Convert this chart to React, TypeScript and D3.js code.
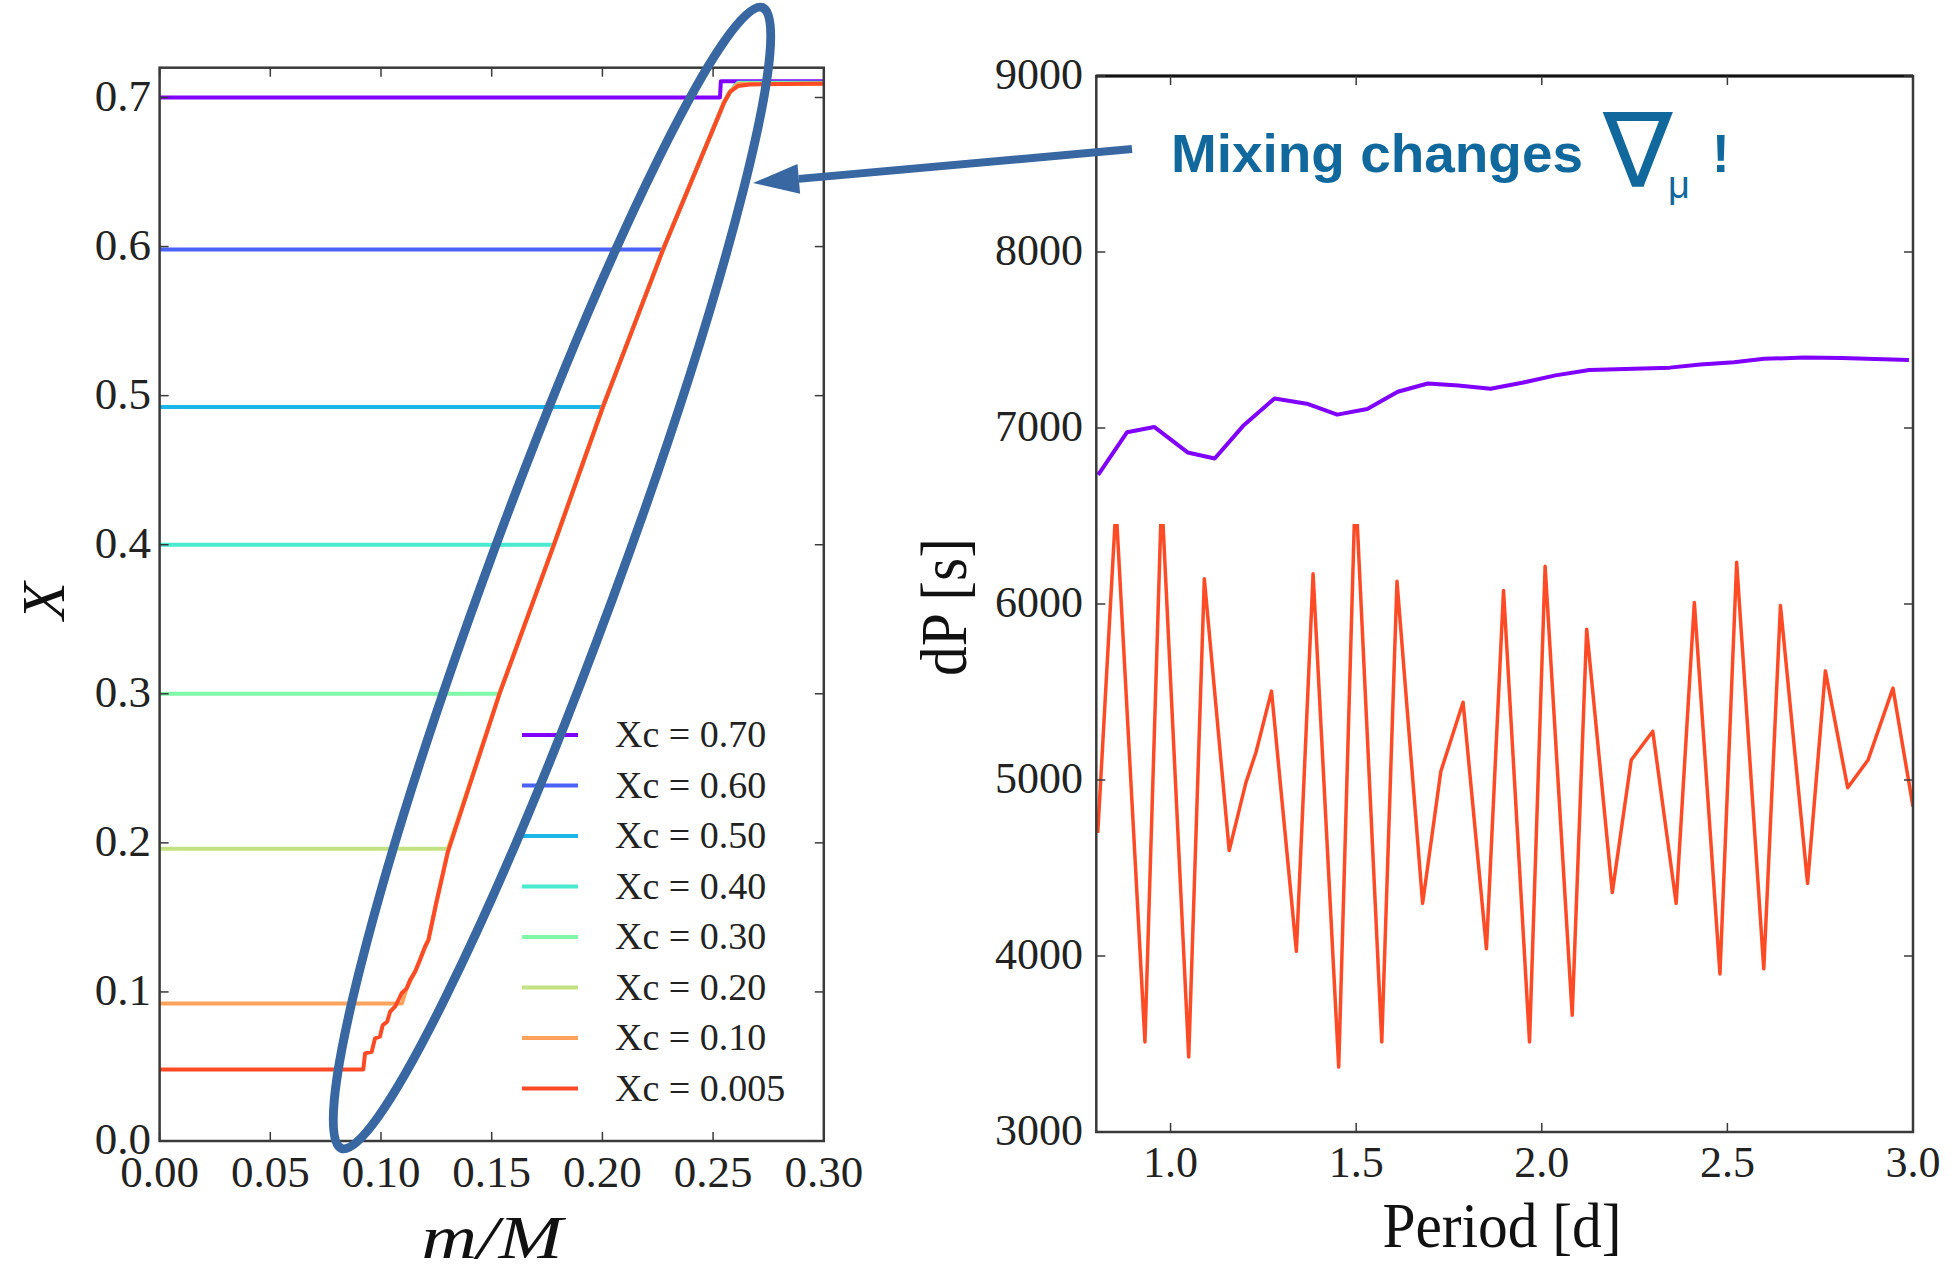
import React from "react";
import * as d3 from "d3";

const W = 1954;
const H = 1270;

// ---------- Left panel data ----------
const LEFT_X_TICKS = [0, 0.05, 0.1, 0.15, 0.2, 0.25, 0.3];
const LEFT_Y_TICKS = [0, 0.1, 0.2, 0.3, 0.4, 0.5, 0.6, 0.7];
const XC_LABELS = ["Xc = 0.70", "Xc = 0.60", "Xc = 0.50", "Xc = 0.40", "Xc = 0.30", "Xc = 0.20", "Xc = 0.10", "Xc = 0.005"];
const XC_COLORS = ["#8000ff", "#4a62f8", "#1cb5e8", "#48ead0", "#80f8a8", "#c2e282", "#ffa25c", "#ff4a26"];
// plateau level, mass where it joins the gradient, final top value, mass where top plateau starts
const XC_LEVELS = [0.70, 0.598, 0.4924, 0.40, 0.30, 0.196, 0.0922];
const XC_JOIN_M = [0.2531, 0.2274, 0.2002, 0.1781, 0.1535, 0.1302, 0.1094];
const XC_TOPS = [0.7109, 0.7101, 0.7099, 0.7097, 0.7095, 0.7093, 0.709];
const XC_TOP_M = [0.2535, 0.2612, 0.2612, 0.2612, 0.2612, 0.2612, 0.2612];

// Xc = 0.005 profile (staircase + gradient)
const CORE_M = [0, 0.092, 0.0928, 0.0958, 0.0973, 0.0995, 0.1008, 0.1028, 0.1041, 0.1063, 0.1075, 0.1093, 0.1116, 0.1131, 0.1154, 0.1176, 0.1199, 0.1214, 0.125, 0.1276, 0.1302, 0.1535, 0.1781, 0.2002, 0.2274, 0.252, 0.2549, 0.2576, 0.2612, 0.2667, 0.3];
const CORE_X = [0.048, 0.048, 0.0588, 0.0599, 0.0689, 0.07, 0.0778, 0.08, 0.0867, 0.0901, 0.0934, 0.0991, 0.1024, 0.108, 0.1136, 0.1214, 0.1303, 0.1348, 0.16, 0.177, 0.194, 0.3, 0.4, 0.4924, 0.598, 0.686, 0.6965, 0.7037, 0.7077, 0.7087, 0.7094];

// shared gradient region (for the other profiles)
const RAMP_M = [0.1116, 0.1154, 0.1199, 0.1214, 0.125, 0.1276, 0.1302, 0.1535, 0.1781, 0.2002, 0.2274, 0.252, 0.2549, 0.2576];
const RAMP_X = [0.1024, 0.1136, 0.1303, 0.1348, 0.16, 0.177, 0.194, 0.3, 0.4, 0.4924, 0.598, 0.686, 0.6965, 0.7037];

// ---------- Right panel data ----------
const RIGHT_X_TICKS = [1.0, 1.5, 2.0, 2.5, 3.0];
const RIGHT_Y_TICKS = [3000, 4000, 5000, 6000, 7000, 8000, 9000];
const P_PURPLE = [0.805, 0.883, 0.956, 1.046, 1.119, 1.195, 1.28, 1.367, 1.449, 1.53, 1.612, 1.693, 1.775, 1.862, 1.947, 2.037, 2.128, 2.345, 2.427, 2.518, 2.599, 2.708, 2.807, 2.989];
const DP_PURPLE = [6734, 6976, 7006, 6861, 6827, 7011, 7168, 7138, 7076, 7108, 7206, 7253, 7241, 7223, 7257, 7299, 7329, 7343, 7361, 7374, 7393, 7400, 7398, 7387];
const P_RED = [0.804, 0.853, 0.931, 0.976, 1.049, 1.091, 1.158, 1.203, 1.23, 1.272, 1.339, 1.384, 1.453, 1.498, 1.569, 1.61, 1.679, 1.728, 1.788, 1.851, 1.897, 1.967, 2.009, 2.082, 2.121, 2.19, 2.241, 2.299, 2.362, 2.411, 2.48, 2.525, 2.598, 2.643, 2.716, 2.764, 2.824, 2.879, 2.946, 3.0];
const DP_RED = [4699, 6560, 3512, 6620, 3426, 6143, 4599, 4985, 5156, 5505, 4027, 6172, 3369, 6680, 3512, 6129, 4299, 5048, 5442, 4041, 6077, 3512, 6214, 3664, 5857, 4361, 5114, 5277, 4299, 6009, 3898, 6237, 3927, 5991, 4413, 5620, 4956, 5114, 5522, 4848];
const RED_CUT = 6455;

// ---------- annotation ----------
const ANNOT_TEXT = "Mixing changes";
const ANNOT_COLOR = "#11689c";
const MARK_COLOR = "#3867a2";

const SERIF = "'Liberation Serif', 'Times New Roman', serif";
const SANS = "'Liberation Sans', Arial, sans-serif";

// scales
const xL = d3.scaleLinear().domain([0, 0.3]).range([159.6, 823.8]);
const yL = d3.scaleLinear().domain([0, 0.72]).range([1141, 1141 - 0.72 * 1490.7]);
const xR = d3.scaleLinear().domain([0.8, 3.0]).range([1096.3, 1913]);
const yR = d3.scaleLinear().domain([3000, 9000]).range([1132, 76]);

const lineL = d3.line<[number, number]>().x((d) => xL(d[0])).y((d) => yL(d[1]));
const lineR = d3.line<[number, number]>().x((d) => xR(d[0])).y((d) => yR(d[1]));

function seriesPoints(i: number): [number, number][] {
  if (i === XC_LEVELS.length) {
    return CORE_M.map((m, k) => [m, CORE_X[k]] as [number, number]);
  }
  const L = XC_LEVELS[i];
  const pts: [number, number][] = [[0, L], [XC_JOIN_M[i], L]];
  RAMP_M.forEach((m, k) => {
    if (RAMP_X[k] > L + 0.005 && m > XC_JOIN_M[i]) pts.push([m, RAMP_X[k]]);
  });
  pts.push([XC_TOP_M[i], XC_TOPS[i]]);
  pts.push([0.3, XC_TOPS[i]]);
  return pts;
}

const fmt1 = d3.format(".1f");
const fmt2 = d3.format(".2f");
const fmtD = d3.format("d");

const TICK = 9;
const AX = "#3a3a3a";

export default function App() {
  const [l0, l1] = xL.range();
  const [b0, t0] = yL.range();
  const [r0, r1] = xR.range();
  const [b1, t1] = yR.range();

  // arrow geometry
  const tip: [number, number] = [753, 183];
  const start: [number, number] = [1132, 149];
  const dx = start[0] - tip[0];
  const dy = start[1] - tip[1];
  const len = Math.hypot(dx, dy);
  const ux = dx / len, uy = dy / len;
  const hl = 46, hw = 15;
  const bx = tip[0] + ux * hl, by = tip[1] + uy * hl;
  const head = `${tip[0]},${tip[1]} ${bx - uy * hw},${by + ux * hw} ${bx + uy * hw},${by - ux * hw}`;

  return (
    <svg width={W} height={H} viewBox={`0 0 ${W} ${H}`} style={{ position: "absolute", left: 0, top: 0, background: "#fff" }}>
      <defs>
        <clipPath id="clipL">
          <rect x={l0} y={t0} width={l1 - l0} height={b0 - t0} />
        </clipPath>
        <clipPath id="clipRed">
          <rect x={r0} y={yR(RED_CUT)} width={r1 - r0} height={b1 - yR(RED_CUT)} />
        </clipPath>
        <clipPath id="clipR">
          <rect x={r0} y={t1} width={r1 - r0} height={b1 - t1} />
        </clipPath>
      </defs>
      <rect x={0} y={0} width={W} height={H} fill="#fff" />

      {/* ===== Left panel ===== */}
      <g clipPath="url(#clipL)">
        {XC_LABELS.map((_, i) => (
          <path key={i} d={lineL(seriesPoints(i)) || ""} fill="none" stroke={XC_COLORS[i]} strokeWidth={4} strokeLinejoin="round" />
        ))}
      </g>
      <rect x={l0} y={t0} width={l1 - l0} height={b0 - t0} fill="none" stroke={AX} strokeWidth={2.5} />
      {LEFT_X_TICKS.map((t) => (
        <g key={"lx" + t}>
          <line x1={xL(t)} x2={xL(t)} y1={b0} y2={b0 - TICK} stroke={AX} strokeWidth={1.5} />
          <line x1={xL(t)} x2={xL(t)} y1={t0} y2={t0 + TICK} stroke={AX} strokeWidth={1.5} />
          <text x={xL(t)} y={1187} textAnchor="middle" fontFamily={SERIF} fontSize={45} fill="#222">{fmt2(t)}</text>
        </g>
      ))}
      {LEFT_Y_TICKS.map((t) => (
        <g key={"ly" + t}>
          <line x1={l0} x2={l0 + TICK} y1={yL(t)} y2={yL(t)} stroke={AX} strokeWidth={1.5} />
          <line x1={l1} x2={l1 - TICK} y1={yL(t)} y2={yL(t)} stroke={AX} strokeWidth={1.5} />
          <text x={151} y={yL(t) + 13} textAnchor="end" fontFamily={SERIF} fontSize={45} fill="#222">{fmt1(t)}</text>
        </g>
      ))}
      <text x={492} y={1258} textAnchor="middle" fontFamily={SERIF} fontStyle="italic" fontSize={62} textLength={141} lengthAdjust="spacingAndGlyphs" fill="#111">m/M</text>
      <text transform="translate(64,601) rotate(-90)" textAnchor="middle" fontFamily={SERIF} fontStyle="italic" fontSize={62} fill="#111">X</text>

      {/* legend */}
      {XC_LABELS.map((lab, i) => {
        const yy = 735 + i * 50.5;
        return (
          <g key={"lg" + i}>
            <line x1={522} x2={578} y1={yy} y2={yy} stroke={XC_COLORS[i]} strokeWidth={4} />
            <text x={615} y={yy + 12} fontFamily={SERIF} fontSize={38} fill="#222">{lab}</text>
          </g>
        );
      })}

      {/* ===== Right panel ===== */}
      <g clipPath="url(#clipR)">
        <path d={lineR(P_PURPLE.map((p, k) => [p, DP_PURPLE[k]] as [number, number])) || ""} fill="none" stroke="#8000ff" strokeWidth={4} strokeLinejoin="round" />
      </g>
      <g clipPath="url(#clipRed)">
        <path d={lineR(P_RED.map((p, k) => [p, DP_RED[k]] as [number, number])) || ""} fill="none" stroke="#ff4a26" strokeWidth={3.5} strokeLinejoin="round" />
      </g>
      <rect x={r0} y={t1} width={r1 - r0} height={b1 - t1} fill="none" stroke={AX} strokeWidth={2.5} />
      <line x1={r0} x2={r1} y1={t1} y2={t1} stroke="#111" strokeWidth={3} />
      {RIGHT_X_TICKS.map((t) => (
        <g key={"rx" + t}>
          <line x1={xR(t)} x2={xR(t)} y1={b1} y2={b1 - TICK} stroke={AX} strokeWidth={1.5} />
          <line x1={xR(t)} x2={xR(t)} y1={t1} y2={t1 + TICK} stroke={AX} strokeWidth={1.5} />
          <text x={xR(t)} y={1177} textAnchor="middle" fontFamily={SERIF} fontSize={44} fill="#222">{fmt1(t)}</text>
        </g>
      ))}
      {RIGHT_Y_TICKS.map((t) => (
        <g key={"ry" + t}>
          <line x1={r0} x2={r0 + TICK} y1={yR(t)} y2={yR(t)} stroke={AX} strokeWidth={1.5} />
          <line x1={r1} x2={r1 - TICK} y1={yR(t)} y2={yR(t)} stroke={AX} strokeWidth={1.5} />
          <text x={1083} y={yR(t) + 13} textAnchor="end" fontFamily={SERIF} fontSize={44} fill="#222">{fmtD(t)}</text>
        </g>
      ))}
      <text x={1502} y={1247} textAnchor="middle" fontFamily={SERIF} fontSize={64} textLength={239} lengthAdjust="spacingAndGlyphs" fill="#111">Period [d]</text>
      <text transform="translate(966,607) rotate(-90)" textAnchor="middle" fontFamily={SERIF} fontSize={66} textLength={138} lengthAdjust="spacingAndGlyphs" fill="#111">dP [s]</text>

      {/* ===== Annotation ===== */}
      <ellipse cx={552} cy={578} rx={608} ry={64} transform="rotate(-69.75 552 578)" fill="none" stroke={MARK_COLOR} strokeWidth={9} />
      <line x1={start[0]} y1={start[1]} x2={bx} y2={by} stroke={MARK_COLOR} strokeWidth={8} />
      <polygon points={head} fill={MARK_COLOR} />
      <text x={1171} y={172} fontFamily={SANS} fontWeight="bold" fontSize={53} textLength={412} lengthAdjust="spacingAndGlyphs" fill={ANNOT_COLOR}>{ANNOT_TEXT}</text>
      <text x={1603} y={187} fontFamily="'DejaVu Sans', sans-serif" fontSize={104} fill={ANNOT_COLOR}>∇</text>
      <text x={1668} y={198} fontFamily={SANS} fontSize={38} fill={ANNOT_COLOR}>μ</text>
      <text x={1712} y={172} fontFamily={SANS} fontWeight="bold" fontSize={53} fill={ANNOT_COLOR}>!</text>
    </svg>
  );
}
